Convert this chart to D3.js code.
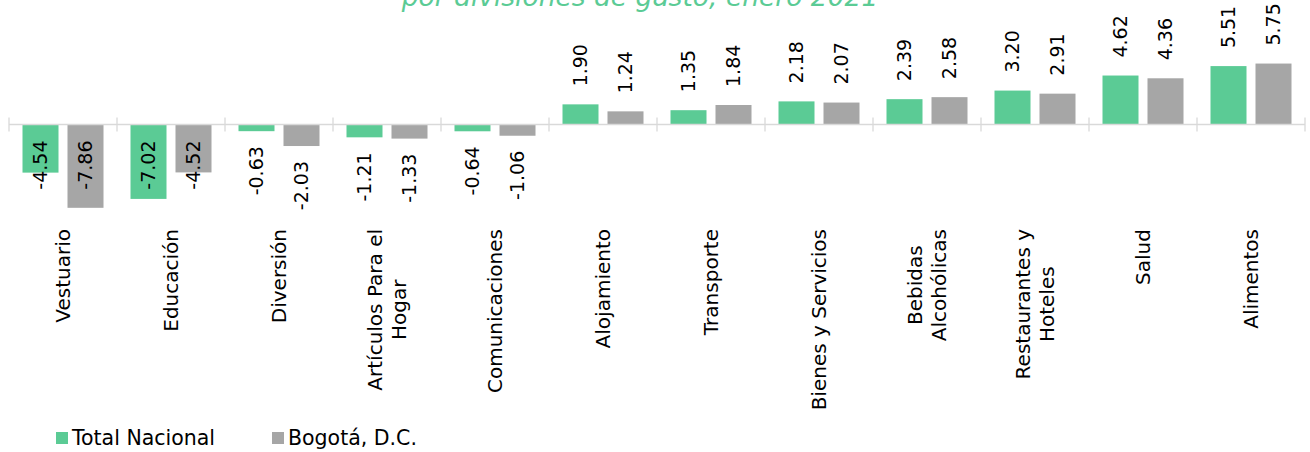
<!DOCTYPE html>
<html>
<head>
<meta charset="utf-8">
<script src="https://cdn.jsdelivr.net/npm/d3@7"></script>
<style>
  body { margin: 0; background: #fff; }
  svg text { font-family: "DejaVu Sans", sans-serif; fill: #000; }
</style>
</head>
<body>
<script>
// Data
const categories = [
  ["Vestuario"], ["Educación"], ["Diversión"], ["Artículos Para el", "Hogar"],
  ["Comunicaciones"], ["Alojamiento"], ["Transporte"], ["Bienes y Servicios"],
  ["Bebidas", "Alcohólicas"], ["Restaurantes y", "Hoteles"], ["Salud"], ["Alimentos"]
];
const seriesNames = ["Total Nacional", "Bogotá, D.C."];
const totalNacional = [-4.54, -7.02, -0.63, -1.21, -0.64, 1.90, 1.35, 2.18, 2.39, 3.20, 4.62, 5.51];
const bogota = [-7.86, -4.52, -2.03, -1.33, -1.06, 1.24, 1.84, 2.07, 2.58, 2.91, 4.36, 5.75];
const colors = ["#5BCB95", "#A6A6A6"];

const width = 1310, height = 452;
const svg = d3.select("body").append("svg")
  .attr("width", width)
  .attr("height", height);

const keys = categories.map(d => d.join(" "));

// Scales
const x = d3.scaleBand().domain(keys).range([9, 1305]).padding(0);
const xSub = d3.scaleBand().domain(seriesNames).range([0, x.bandwidth()])
  .paddingInner(0.2).paddingOuter(0.3);
const y = d3.scaleLinear().domain([-8, 6]).range([124.5 + 8 * 10.6, 124.5 - 6 * 10.6]);

const rows = keys.map((k, i) => ({ key: k, values: [totalNacional[i], bogota[i]] }));

// Title (partly cut off at the top)
svg.append("text")
  .attr("x", 640)
  .attr("y", 6)
  .attr("text-anchor", "middle")
  .style("font-size", "26.5px")
  .style("font-style", "italic")
  .style("fill", "#5BCB95")
  .text("por divisiones de gasto, enero 2021");

// Bars
const groups = svg.selectAll(".cat")
  .data(rows)
  .enter().append("g")
  .attr("class", "cat")
  .attr("transform", d => `translate(${x(d.key)},0)`);

groups.selectAll("rect")
  .data(d => d.values.map((v, j) => ({ name: seriesNames[j], value: v, j: j })))
  .enter().append("rect")
  .attr("x", d => xSub(d.name))
  .attr("y", d => Math.min(y(d.value), y(0)))
  .attr("width", xSub.bandwidth())
  .attr("height", d => Math.abs(y(d.value) - y(0)))
  .attr("fill", d => colors[d.j]);

// Axis line with cross ticks at category boundaries
svg.append("line")
  .attr("x1", x.range()[0]).attr("x2", x.range()[1])
  .attr("y1", y(0)).attr("y2", y(0))
  .attr("stroke", "#D9D9D9").attr("stroke-width", 1.3);

const boundaries = keys.map(k => x(k)).concat([x.range()[1]]);
svg.selectAll(".tick-mark")
  .data(boundaries)
  .enter().append("line")
  .attr("class", "tick-mark")
  .attr("x1", d => d).attr("x2", d => d)
  .attr("y1", y(0) - 7).attr("y2", y(0) + 7)
  .attr("stroke", "#D9D9D9").attr("stroke-width", 1.3);

// Data labels, rotated
groups.selectAll(".val")
  .data(d => d.values.map((v, j) => ({ name: seriesNames[j], value: v })))
  .enter().append("text")
  .attr("class", "val")
  .style("font-size", "19px")
  .attr("dy", "0.35em")
  .text(d => d.value.toFixed(2))
  .each(function(d) {
    const t = d3.select(this);
    const cx = xSub(d.name) + xSub.bandwidth() / 2;
    const len = this.getComputedTextLength();
    let pos, anchor;
    if (d.value >= 0) {
      pos = y(d.value) - 18;
      anchor = "start";
    } else {
      pos = y(d.value) + 15;
      // keep label inside the plot area
      if (pos + len > 236) pos = y(0) + 16;
      anchor = "end";
    }
    t.attr("text-anchor", anchor)
      .attr("transform", `translate(${cx},${pos}) rotate(-90)`);
  });

// Category labels, rotated, lines centred within the block
const labelTop = 229;
const lineGap = 24;
groups.each(function(d, i) {
  const g = d3.select(this);
  const lines = categories[i];
  const cx = x.bandwidth() / 2;
  const texts = lines.map(line => g.append("text")
    .style("font-size", "20px")
    .attr("text-anchor", "middle")
    .attr("dy", "0.35em")
    .text(line));
  const maxLen = d3.max(texts, t => t.node().getComputedTextLength());
  const center = labelTop + maxLen / 2;
  texts.forEach((t, li) => {
    const off = (li - (lines.length - 1) / 2) * lineGap;
    t.attr("transform", `translate(${cx + off},${center}) rotate(-90)`);
  });
});

// Legend
const legendX = [56, 272];
const legend = svg.selectAll(".legend")
  .data(seriesNames)
  .enter().append("g")
  .attr("class", "legend")
  .attr("transform", (d, i) => `translate(${legendX[i]},432)`);

legend.append("rect")
  .attr("width", 12).attr("height", 12)
  .attr("fill", (d, i) => colors[i]);

legend.append("text")
  .attr("x", 16)
  .attr("y", 13)
  .style("font-size", "20.5px")
  .text(d => d);
</script>
</body>
</html>
